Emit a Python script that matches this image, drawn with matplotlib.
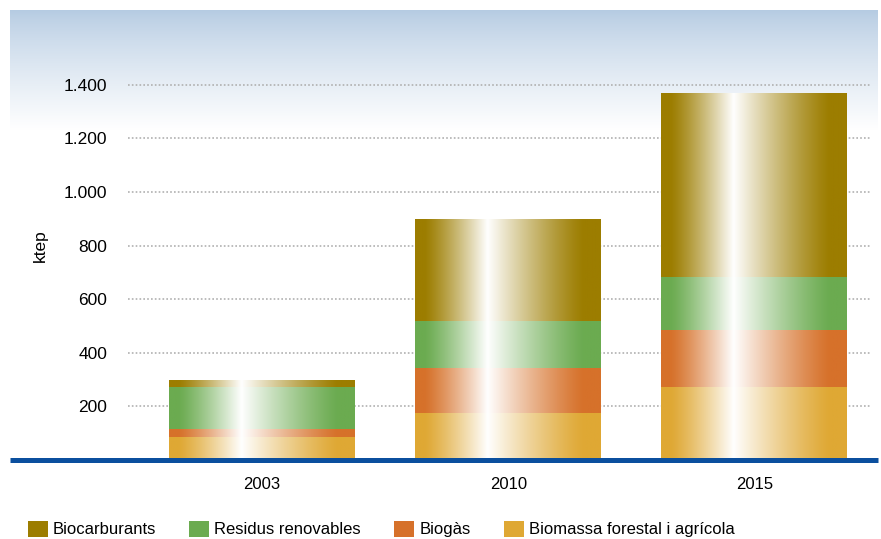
import numpy as np
import matplotlib
matplotlib.use("Agg")
import matplotlib.pyplot as plt
from matplotlib.lines import Line2D
from matplotlib.colors import to_rgb

plt.rcParams['font.family'] = ['Liberation Sans', 'DejaVu Sans']

# consum (ktep) per font d'energia
years = ['2003', '2010', '2015']
biomassa = [87, 176, 273]
biogas = [28, 166, 212]
residus = [156, 178, 199]
biocarburants = [27, 378, 687]

series_names = ['Biocarburants', 'Residus renovables', 'Biogàs', 'Biomassa forestal i agrícola']
series_colors = ['#9c7d00', '#6bab50', '#d6712a', '#dfa834']

y_ticks = [200, 400, 600, 800, 1000, 1200, 1400]
y_tick_labels = ['200', '400', '600', '800', '1.000', '1.200', '1.400']

W, H = 881, 539


def px(x0, y0, x1, y1):
    return [x0 / W, 1 - y1 / H, (x1 - x0) / W, (y1 - y0) / H]


def shine(color, n=200):
    # horizontal highlight: solid edges, white streak left of centre
    u = np.linspace(0, 1, n)
    left = np.clip((u - 0.05) / 0.34, 0, 1)
    right = np.clip(1 - (u - 0.39) / 0.52, 0, 1)
    w = np.where(u < 0.39, left, right) ** 1.2
    c = np.array(to_rgb(color))
    rgb = c[None, :] * (1 - w[:, None]) + w[:, None]
    return rgb[None, :, :]


fig = plt.figure(figsize=(8.81, 5.39), dpi=100)

# pale blue band fading to white behind the plot
bg = fig.add_axes(px(10, 10, 878, 460), zorder=0)
rows = np.arange(450)
f = np.clip(rows / 120.0, 0, 1) ** 0.8
top = np.array([181, 203, 226]) / 255.0
grad = top[None, :] * (1 - f[:, None]) + f[:, None]
bg.imshow(np.repeat(grad[:, None, :], 2, axis=1), aspect='auto', extent=(0, 1, 0, 1))
bg.axis('off')

ax = fig.add_axes(px(128, 58, 870, 460), zorder=1)
ax.patch.set_alpha(0)

x = np.arange(len(years))
width = 0.755
stack = [biomassa, biogas, residus, biocarburants]
colors = series_colors[::-1]
names = series_names[::-1]
bottom = np.zeros(len(years))
handles = {}
for vals, col, name in zip(stack, colors, names):
    bars = ax.bar(x, vals, width, bottom=bottom, color=col, label=name, zorder=2, linewidth=0)
    handles[name] = bars
    for rect in bars:
        im = ax.imshow(shine(col), aspect='auto', zorder=3,
                       extent=(rect.get_x(), rect.get_x() + rect.get_width(),
                               rect.get_y(), rect.get_y() + rect.get_height()))
        im.set_clip_path(rect)
    bottom += np.array(vals)

ax.set_xlim(-0.545, 2.47)
ax.set_ylim(0, 1500)
ax.set_xticks(x)
ax.set_xticklabels(years, fontsize=12)
ax.set_yticks(y_ticks)
ax.set_yticklabels(y_tick_labels, fontsize=12.5)
ax.tick_params(axis='x', length=0, pad=12)
ax.tick_params(axis='y', length=0, pad=15)
ax.yaxis.grid(True, linestyle=(0, (1, 1.3)), color='#b0b0b0', linewidth=1.2)
ax.set_axisbelow(True)
for s in ax.spines.values():
    s.set_visible(False)

fig.text(40 / W, 1 - 246 / H, 'ktep', rotation=90, fontsize=12.5, ha='center', va='center')

# blue base line across the whole width
fig.add_artist(Line2D([10 / W, 878 / W], [1 - 459.5 / H] * 2, color='#0b4f9e',
                      linewidth=3.6, solid_capstyle='butt', zorder=5))

fig.legend([handles[n] for n in series_names], series_names, loc='lower left',
           bbox_to_anchor=(26 / W, 0.0), ncol=4, frameon=False, fontsize=12,
           handlelength=1.2, handleheight=1.1, handletextpad=0.3,
           columnspacing=2.0, borderpad=0.0, borderaxespad=0.1)

fig.savefig('out.png', dpi=100)
